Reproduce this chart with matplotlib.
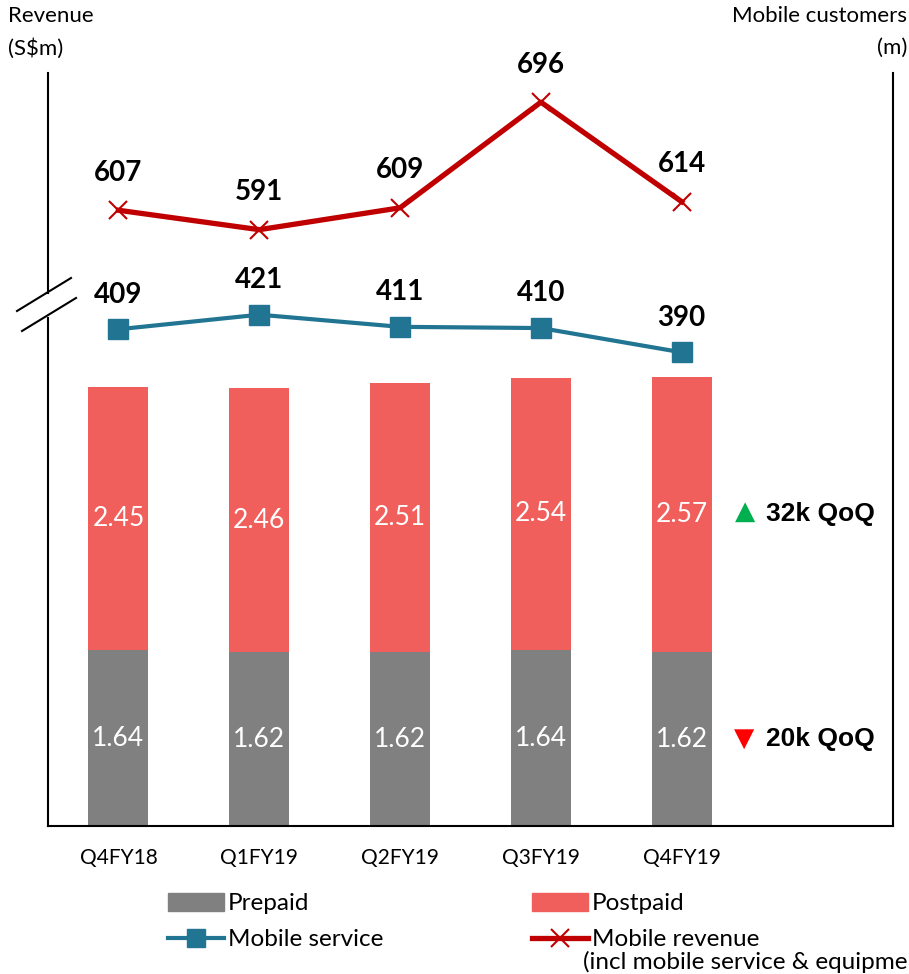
import numpy as np
import matplotlib
matplotlib.use("Agg")
import matplotlib.pyplot as plt
from matplotlib.lines import Line2D
from matplotlib.patches import Patch

plt.rcParams["font.family"] = ["Lato", "DejaVu Sans"]

# ---- data -------------------------------------------------------------
quarters = ["Q4FY18", "Q1FY19", "Q2FY19", "Q3FY19", "Q4FY19"]
prepaid = [1.64, 1.62, 1.62, 1.64, 1.62]          # mobile customers (m)
postpaid = [2.45, 2.46, 2.51, 2.54, 2.57]         # mobile customers (m)
mobile_service = [409, 421, 411, 410, 390]        # revenue (S$m)
mobile_revenue = [607, 591, 609, 696, 614]        # revenue (S$m)
postpaid_change = "32k QoQ"
prepaid_change = "20k QoQ"

# ---- colours ----------------------------------------------------------
C_PRE = "#808080"
C_POST = "#F05F5B"
C_SERV = "#217592"
C_REV = "#C00000"
C_UP = "#00B050"
C_DOWN = "#FF0000"

# broken revenue axis: values above the break are shifted down by GAP
BREAK_AT, GAP = 440.0, 100.0


def fwd(v):
    v = np.asarray(v, dtype=float)
    return np.where(v <= BREAK_AT, v, BREAK_AT + np.clip(v - BREAK_AT - GAP, 0, None))


def inv(t):
    t = np.asarray(t, dtype=float)
    return np.where(t <= BREAK_AT, t, t + GAP)


W, H = 909, 974
fig = plt.figure(figsize=(W / 100, H / 100), dpi=100)
L, R, B, T = 48, 893, 826, 73
ax = fig.add_axes([L / W, 1 - B / H, (R - L) / W, (B - T) / H])

x = np.arange(len(quarters))
bw = 0.425
ax.bar(x, prepaid, width=bw, color=C_PRE, zorder=2)
ax.bar(x, postpaid, bottom=prepaid, width=bw, color=C_POST, zorder=2)
ax.set_xlim(-0.5, 5.5)
ax.set_ylim(0, 7.02)

for i, (p, q) in enumerate(zip(prepaid, postpaid)):
    ax.text(i, p / 2, f"{p:.2f}", ha="center", va="center", color="white", fontsize=19, zorder=3)
    ax.text(i, p + q / 2, f"{q:.2f}", ha="center", va="center", color="white", fontsize=19, zorder=3)

ax.set_xticks(x, quarters)
ax.tick_params(axis="x", length=0, pad=16, labelsize=15)
ax.set_yticks([])
for s in ("top", "left"):
    ax.spines[s].set_visible(False)
for s in ("right", "bottom"):
    ax.spines[s].set_linewidth(1.5)
    ax.spines[s].set_color("black")

# QoQ change markers next to the latest bar
last = len(quarters) - 1
y_post = prepaid[last] + postpaid[last] / 2
y_pre = prepaid[last] / 2
ax.text(last + 0.45, y_post + 0.02, "\u25B2", color=C_UP, fontsize=19, ha="center", va="center",
        family="DejaVu Sans")
ax.text(last + 0.6, y_post, postpaid_change, fontsize=19, fontweight="bold", ha="left",
        va="center", family="Liberation Sans")
ax.text(last + 0.44, y_pre, "\u25BC", color=C_DOWN, fontsize=19, ha="center", va="center",
        family="DejaVu Sans")
ax.text(last + 0.6, y_pre, prepaid_change, fontsize=19, fontweight="bold", ha="left",
        va="center", family="Liberation Sans")

# revenue lines on a broken secondary scale
axr = ax.twinx()
axr.set_yscale("function", functions=(fwd, inv))
axr.set_ylim(0, 720)
axr.set_yticks([])
axr.minorticks_off()
for s in axr.spines.values():
    s.set_visible(False)

axr.plot(x, mobile_revenue, color=C_REV, lw=3.8, marker="x", markersize=13,
         markeredgewidth=1.5, zorder=3)
axr.plot(x, mobile_service, color=C_SERV, lw=3, marker="s", markersize=15, zorder=3)

for i, v in enumerate(mobile_revenue):
    axr.annotate(f"{v}", (i, v), xytext=(0, 27), textcoords="offset points",
                 ha="center", va="center", fontsize=20, fontweight="bold")
for i, v in enumerate(mobile_service):
    axr.annotate(f"{v}", (i, v), xytext=(0, 25), textcoords="offset points",
                 ha="center", va="center", fontsize=20, fontweight="bold")


# left axis line with a break
def fx(px):
    return px / W


def fy(py):
    return 1 - py / H


for y0, y1 in ((B, 318), (293, T)):
    fig.add_artist(Line2D([fx(L), fx(L)], [fy(y0), fy(y1)], color="black", lw=1.5))
for (x0, y0), (x1, y1) in (((17, 311), (71, 278)), ((22, 331), (76, 298))):
    fig.add_artist(Line2D([fx(x0), fx(x1)], [fy(y0), fy(y1)], color="black", lw=1.5))

# axis titles
fig.text(fx(8), fy(6), "Revenue\n(S$m)", ha="left", va="top", fontsize=16, linespacing=1.75)
fig.text(fx(907), fy(6), "Mobile customers\n(m)", ha="right", va="top", fontsize=16,
         linespacing=1.75, multialignment="right")

# legend
handles = [
    Patch(color=C_PRE),
    Line2D([], [], color=C_SERV, lw=3, marker="s", markersize=13),
    Patch(color=C_POST),
    Line2D([], [], color=C_REV, lw=3.8, marker="x", markersize=13, markeredgewidth=1.5),
]
labels = ["Prepaid", "Mobile service", "Postpaid", "Mobile revenue"]
fig.legend(handles, labels, ncol=2, loc="upper left", bbox_to_anchor=(fx(168), fy(893)),
           frameon=False, fontsize=17.5, handlelength=2.3, handletextpad=0.15,
           handleheight=0.75, columnspacing=6.15, borderaxespad=0, borderpad=0,
           labelspacing=0.6)
fig.text(fx(583), fy(962), "(incl mobile service & equipment)", ha="left", va="center",
         fontsize=17.5)

fig.savefig("out.png", dpi=100)
